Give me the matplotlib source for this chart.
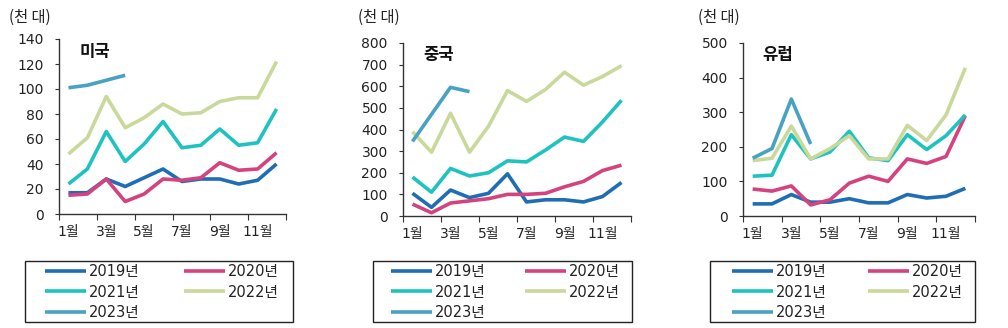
import numpy as np
import matplotlib
matplotlib.use('Agg')
import matplotlib.pyplot as plt
from matplotlib.patches import Rectangle
from matplotlib.font_manager import FontProperties

plt.rcParams['font.family'] = ['Noto Sans CJK KR', 'DejaVu Sans']
tick_family = ['DejaVu Sans', 'Noto Sans CJK KR']

months = np.arange(12)
month_labels = ['1월', '3월', '5월', '7월', '9월', '11월']
years = ['2019년', '2020년', '2021년', '2022년', '2023년']
colors = ['#1f6db4', '#d5437e', '#1ec3c0', '#c9d99b', '#4aa2c2']

us_2019 = [17, 17, 28, 22, 29, 36, 26, 28, 28, 24, 27, 40]
us_2020 = [15, 16, 28, 10, 16, 28, 27, 29, 41, 35, 36, 49]
us_2021 = [24, 36, 66, 42, 56, 74, 53, 55, 68, 55, 57, 84]
us_2022 = [48, 61, 94, 69, 77, 88, 80, 81, 90, 93, 93, 122]
us_2023 = [101, 103, 107, 111]

cn_2019 = [105, 40, 120, 85, 105, 195, 65, 75, 75, 65, 90, 155]
cn_2020 = [55, 15, 60, 70, 80, 100, 100, 105, 135, 160, 210, 235]
cn_2021 = [180, 110, 220, 185, 200, 255, 250, 305, 365, 345, 435, 535]
cn_2022 = [390, 295, 475, 295, 415, 580, 530, 585, 665, 605, 645, 695]
cn_2023 = [345, 470, 595, 575]

eu_2019 = [35, 35, 62, 40, 40, 50, 38, 38, 62, 52, 57, 80]
eu_2020 = [78, 72, 87, 32, 47, 95, 115, 100, 165, 152, 172, 290]
eu_2021 = [115, 118, 235, 165, 185, 245, 168, 160, 235, 192, 232, 292]
eu_2022 = [160, 167, 260, 165, 195, 232, 165, 165, 262, 218, 292, 428]
eu_2023 = [167, 195, 338, 208]

panels = [
    ('미국', [us_2019, us_2020, us_2021, us_2022, us_2023], 140, 20),
    ('중국', [cn_2019, cn_2020, cn_2021, cn_2022, cn_2023], 800, 100),
    ('유럽', [eu_2019, eu_2020, eu_2021, eu_2022, eu_2023], 500, 100),
]

W, H = 1008, 328
# axes boxes in pixels: left, right, top, bottom
ax_px = [(59, 286, 39, 214), (403, 631, 43, 216), (743, 975, 43, 216)]
unit_px = [(9, 17), (358, 17), (698, 17)]
title_px = [(80, 52), (423, 55), (762, 55)]
legend_box = [(25, 293, 261, 322), (373, 632, 261, 322), (710, 975, 261, 322)]
legend_inner = [(45, 279), (391, 620), (732, 963)]

leg_font = FontProperties(family=['DejaVu Sans', 'Noto Sans CJK KR'], size=10.5)

fig = plt.figure(figsize=(W / 100, H / 100), dpi=100)

for k, (name, series, ymax, ystep) in enumerate(panels):
    l, r, t, b = ax_px[k]
    ax = fig.add_axes([l / W, 1 - b / H, (r - l) / W, (b - t) / H])
    handles = []
    for s, c, lab in zip(series, colors, years):
        x = months[:len(s)] + 0.5
        h, = ax.plot(x, s, color=c, linewidth=2.6, label=lab, solid_capstyle='butt')
        handles.append(h)

    ax.set_xlim(0, 12)
    ax.set_ylim(0, ymax)
    ax.set_yticks(np.arange(0, ymax + 1, ystep))
    ax.set_xticks(np.arange(0, 13, 2))
    ax.set_xticklabels([])
    ax.set_xticks(np.arange(0, 12, 2) + 0.5, minor=True)
    ax.set_xticklabels(month_labels, minor=True)
    ax.tick_params(axis='x', which='minor', length=0, pad=8, labelsize=10, colors='#222222')
    ax.tick_params(axis='x', which='major', length=4, direction='out', color='#333333')
    ax.tick_params(axis='y', length=3, width=0.8, pad=8, labelsize=10,
                   colors='#222222', color='#333333')
    for lab in ax.get_xticklabels(minor=True) + ax.get_yticklabels():
        lab.set_family(tick_family)
    for sp in ['top', 'right']:
        ax.spines[sp].set_visible(False)
    for sp in ['left', 'bottom']:
        ax.spines[sp].set_color('#333333')
        ax.spines[sp].set_linewidth(1.0)

    fig.text(unit_px[k][0] / W, 1 - unit_px[k][1] / H, '(천 대)', fontsize=11,
             va='center', ha='left', color='#222222')
    fig.text(title_px[k][0] / W, 1 - title_px[k][1] / H, name, fontsize=12,
             fontweight='bold', va='center', ha='left', color='#111111')

    bx0, bx1, by0, by1 = legend_box[k]
    fig.patches.append(Rectangle((bx0 / W, 1 - by1 / H), (bx1 - bx0) / W, (by1 - by0) / H,
                                 transform=fig.transFigure, fill=False,
                                 edgecolor='#222222', linewidth=1.0))
    ix0, ix1 = legend_inner[k]
    order = [0, 2, 4, 1, 3]
    leg = fig.legend([handles[i] for i in order], [years[i] for i in order],
                     loc='upper left', ncol=2, mode='expand',
                     bbox_to_anchor=(ix0 / W, 1 - (by0 + 3) / H, (ix1 - ix0) / W, 0.001),
                     prop=leg_font, frameon=False,
                     handlelength=2.8, handletextpad=0.2, labelspacing=0.4,
                     borderpad=0, borderaxespad=0, columnspacing=1.0)
    for txt in leg.get_texts():
        txt.set_color('#222222')

fig.savefig('out.png', dpi=100)
